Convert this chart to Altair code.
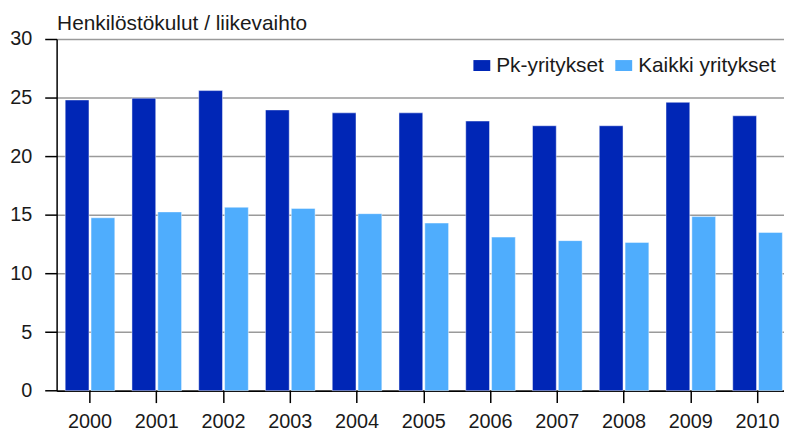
import altair as alt
import pandas as pd

years = ["2000", "2001", "2002", "2003", "2004", "2005", "2006", "2007", "2008", "2009", "2010"]
pk_yritykset = [24.8, 24.95, 25.6, 23.95, 23.7, 23.7, 23.0, 22.6, 22.6, 24.6, 23.45]
kaikki_yritykset = [14.75, 15.25, 15.65, 15.55, 15.1, 14.3, 13.1, 12.8, 12.65, 14.85, 13.5]
series_names = ["Pk-yritykset", "Kaikki yritykset"]
series_colors = ["#0026b6", "#4fadfd"]
y_ticks = [0, 5, 10, 15, 20, 25, 30]
title_text = "Henkilöstökulut / liikevaihto"

rows = []
for i, yr in enumerate(years):
    rows.append({"year": yr, "series": series_names[0], "value": pk_yritykset[i]})
    rows.append({"year": yr, "series": series_names[1], "value": kaikki_yritykset[i]})
df = pd.DataFrame(rows)

FONT = "Liberation Sans"

chart = alt.Chart(df).mark_bar(
    stroke="white", strokeWidth=1, strokeOpacity=0.45
).encode(
    x=alt.X(
        "year:N",
        sort=years,
        scale=alt.Scale(paddingInner=0.257, paddingOuter=0.1285),
        axis=alt.Axis(
            title=None, labelAngle=0, grid=False, ticks=True, tickSize=12,
            tickColor="black", tickWidth=1.5, domainColor="black", domainWidth=1.5,
            labelFontSize=20, labelFont=FONT, labelColor="#1a1a1a", labelPadding=9,
        ),
    ),
    xOffset=alt.XOffset("series:N", sort=series_names, scale=alt.Scale(paddingInner=0.08)),
    y=alt.Y(
        "value:Q",
        scale=alt.Scale(domain=[0, 30], nice=False),
        axis=alt.Axis(
            values=y_ticks, grid=True, gridColor="#9a9a9a", gridWidth=1.5,
            tickSize=12, tickColor="black", tickWidth=1.5,
            domainColor="black", domainWidth=1.5,
            labelFontSize=20, labelFont=FONT, labelColor="#1a1a1a", labelPadding=13,
            title=title_text, titleAngle=0, titleX=0, titleY=-9.3,
            titleAlign="left", titleBaseline="alphabetic", titleFont=FONT,
            titleFontSize=21, titleFontWeight="normal", titleColor="#1a1a1a",
        ),
    ),
    color=alt.Color(
        "series:N",
        sort=series_names,
        scale=alt.Scale(domain=series_names, range=series_colors),
        legend=alt.Legend(
            title=None, orient="none", direction="horizontal",
            legendX=418, legendY=16,
            symbolType="M-1,-0.65H1V0.65H-1Z", symbolSize=289,
            symbolStrokeWidth=0, symbolOpacity=1,
            labelFont=FONT, labelFontSize=21, labelColor="#1a1a1a",
            labelOffset=4, columnPadding=9,
        ),
    ),
).properties(
    width=740,
    height=354.4,
    autosize=alt.AutoSizeParams(type="none"),
    padding={"left": 49, "top": 29.6, "right": -7, "bottom": 41},
).configure_view(stroke=None)

chart.save("out.html", embed_options={"renderer": "svg", "actions": False})
